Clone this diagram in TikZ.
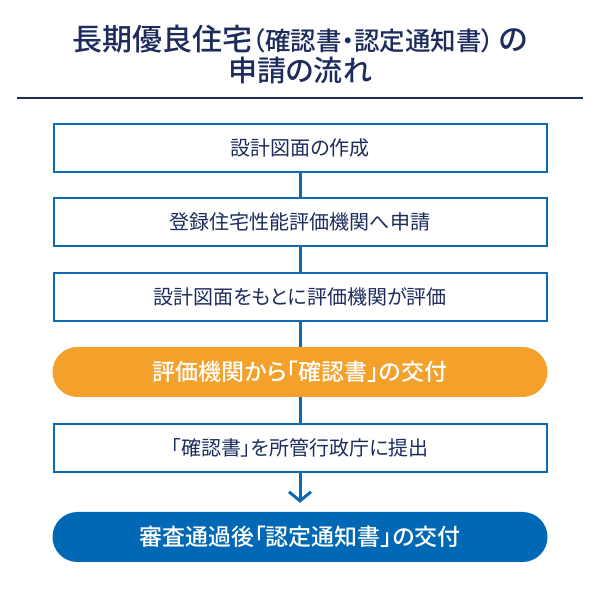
\documentclass[tikz,border=0pt]{standalone}
\usepackage{fontspec}
\setmainfont{Noto Sans CJK JP}[RawFeature=+palt]
\newfontfamily\cjkmed{Noto Sans CJK JP Medium}[RawFeature=+palt]
\usepackage{tikz}
\usetikzlibrary{arrows.meta}
\definecolor{navy}{HTML}{1D2C5C}
\definecolor{flowblue}{HTML}{0A6AB4}
\definecolor{pillorange}{HTML}{F3A12A}
\definecolor{pillblue}{HTML}{0068B4}
\tikzstyle{stepbox}=[draw=flowblue, line width=2pt, fill=white, minimum width=493pt, minimum height=48pt, inner sep=0pt, text=navy, font=\fontsize{20pt}{24pt}\selectfont]
\tikzstyle{pill}=[rounded corners=25pt, minimum width=495pt, minimum height=50pt, inner sep=0pt, text=white, font=\cjkmed\fontsize{23pt}{26pt}\selectfont]
\tikzstyle{link}=[draw=flowblue, line width=3pt]

\begin{document}
\begin{tikzpicture}[x=1pt, y=1pt]
        \fill[white] (0, 0) rectangle (600, 600);
        \node[text=navy, font=\cjkmed\fontsize{30pt}{32pt}\selectfont] (title1) at (300, 561) {長期優良住宅{\fontsize{25.5pt}{28pt}\selectfont（確認書・認定通知書）}\kern4pt の};
        \node[text=navy, font=\cjkmed\fontsize{29pt}{32pt}\selectfont] (title2) at (300, 530) {申請の流れ};
        \coordinate (ruleL) at (17, 502);
        \coordinate (ruleR) at (583, 502);
        \draw[navy, line width=2pt] (ruleL) -- (ruleR);
        \node[stepbox] (S1) at (300, 452) {設計図面の作成};
        \node[stepbox] (S2) at (300, 378) {登録住宅性能評価機関へ申請};
        \node[stepbox] (S3) at (300, 303) {設計図面をもとに評価機関が評価};
        \node[pill, fill=pillorange] (S4) at (300, 228) {評価機関から「確認書」の交付};
        \node[stepbox] (S5) at (300, 152) {「確認書」を所管行政庁に提出};
        \node[pill, fill=pillblue] (S6) at (300, 63) {審査通過後「認定通知書」の交付};
        \draw[link] (S1.south) -- (S2.north);
        \draw[link] (S2.south) -- (S3.north);
        \draw[link] (S3.south) -- (S4.north);
        \draw[link] (S4.south) -- (S5.north);
        \draw[link, -{Straight Barb[length=9pt, width=22pt]}, shorten >=9pt] (S5.south) -- (S6.north);
    \end{tikzpicture}
\end{document}
